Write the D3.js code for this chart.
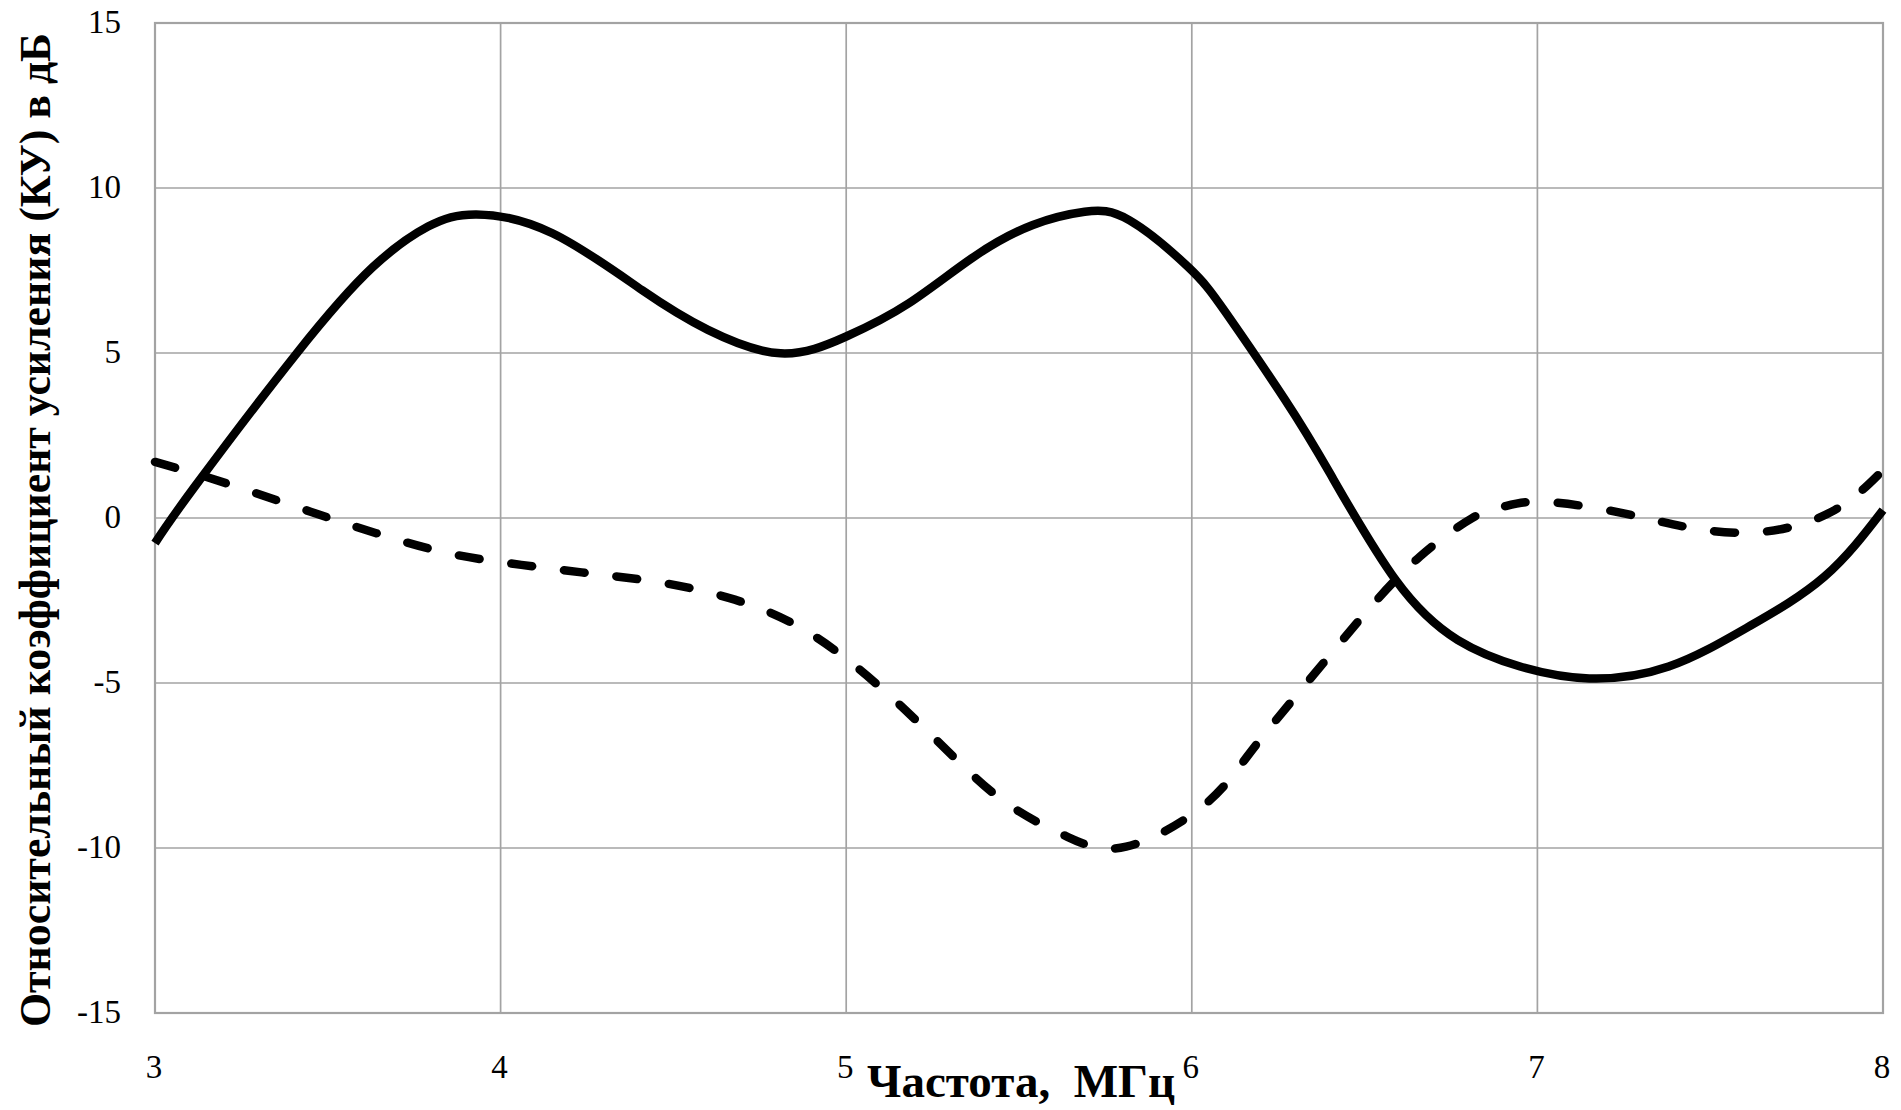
<!DOCTYPE html>
<html>
<head>
<meta charset="utf-8">
<script src="https://cdn.jsdelivr.net/npm/d3@7"></script>
<style>
  html, body { margin: 0; padding: 0; background: #fff; }
  svg { display: block; }
</style>
</head>
<body>
<svg id="chart" width="1901" height="1110"></svg>
<script>
// ---- data ----
const xTicks = [3, 4, 5, 6, 7, 8];
const yTicks = [15, 10, 5, 0, -5, -10, -15];
const xTitle = "Частота,  МГц";
const yTitle = "Относительный коэффициент усиления (КУ) в дБ";

// solid curve
const solidX = [3.0, 3.115, 3.41, 3.63, 3.79, 3.93, 4.15, 4.41, 4.60, 4.81, 5.0, 5.18, 5.37, 5.54, 5.69, 5.82, 5.99, 6.10, 6.27, 6.40, 6.59, 6.77, 6.95, 7.15, 7.38, 7.61, 7.83, 8.0];
const solidY = [-0.76, 0.95, 4.99, 7.6, 8.83, 9.2, 8.63, 6.9, 5.7, 4.99, 5.5, 6.5, 7.92, 8.88, 9.28, 9.02, 7.6, 6.2, 3.58, 1.35, -1.88, -3.7, -4.5, -4.86, -4.5, -3.3, -1.78, 0.24];

// dashed curve
const dashX = [3.0, 3.115, 3.25, 3.45, 3.64, 3.85, 4.06, 4.26, 4.46, 4.66, 4.845, 5.01, 5.166, 5.31, 5.465, 5.64, 5.81, 6.03, 6.16, 6.285, 6.42, 6.53, 6.66, 6.81, 6.90, 7.02, 7.25, 7.45, 7.66, 7.86, 8.0];
const dashY = [1.7, 1.35, 0.9, 0.19, -0.46, -1.07, -1.42, -1.68, -1.95, -2.42, -3.19, -4.35, -5.77, -7.23, -8.65, -9.66, -9.96, -8.75, -7.23, -5.6, -3.9, -2.55, -1.17, -0.01, 0.34, 0.49, 0.14, -0.31, -0.41, 0.24, 1.45];

// ---- layout ----
const svg = d3.select("#chart");
const L = 155, R = 1883, T = 23, B = 1013;

const x = d3.scaleLinear().domain([3, 8]).range([L, R]);
const y = d3.scaleLinear().domain([-15, 15]).range([B, T]);

const gridColor = "#a3a3a3";

// gridlines
const g = svg.append("g");
g.selectAll("line.v").data(xTicks).enter().append("line")
  .attr("x1", d => x(d)).attr("x2", d => x(d))
  .attr("y1", T).attr("y2", B)
  .attr("stroke", gridColor).attr("stroke-width", 1.7);
g.selectAll("line.h").data(yTicks).enter().append("line")
  .attr("x1", L).attr("x2", R)
  .attr("y1", d => y(d)).attr("y2", d => y(d))
  .attr("stroke", gridColor).attr("stroke-width", 1.7);
// border
svg.append("rect").attr("x", L).attr("y", T).attr("width", R - L).attr("height", B - T)
  .attr("fill", "none").attr("stroke", gridColor).attr("stroke-width", 2.2);

// tick labels
const tickFont = "'Liberation Serif', 'Times New Roman', serif";
svg.selectAll("text.yt").data(yTicks).enter().append("text")
  .attr("x", 121).attr("y", d => y(d) - 1)
  .attr("text-anchor", "end").attr("dominant-baseline", "central")
  .attr("font-family", tickFont).attr("font-size", 33).attr("fill", "#000")
  .text(d => d);
svg.selectAll("text.xt").data(xTicks).enter().append("text")
  .attr("x", d => x(d) - 1).attr("y", 1067)
  .attr("text-anchor", "middle").attr("dominant-baseline", "central")
  .attr("font-family", tickFont).attr("font-size", 33).attr("fill", "#000")
  .text(d => d);

// axis titles
svg.append("text")
  .attr("x", (L + R) / 2 + 2).attr("y", 1097)
  .attr("text-anchor", "middle")
  .attr("font-family", tickFont).attr("font-size", 47).attr("font-weight", "bold")
  .style("white-space", "pre")
  .attr("fill", "#000")
  .text(xTitle);

svg.append("text")
  .attr("transform", "translate(50," + 530 + ") rotate(-90)")
  .attr("text-anchor", "middle")
  .attr("font-family", tickFont).attr("font-size", 45).attr("font-weight", "bold")
  .attr("fill", "#000")
  .attr("textLength", 994).attr("lengthAdjust", "spacingAndGlyphs")
  .text(yTitle);

// lines
const line = d3.line().x(d => x(d[0])).y(d => y(d[1])).curve(d3.curveNatural);
const solid = solidX.map((v, i) => [v, solidY[i]]);
const dashed = dashX.map((v, i) => [v, dashY[i]]);

svg.append("path").attr("d", line(dashed))
  .attr("fill", "none").attr("stroke", "#000").attr("stroke-width", 8.5)
  .attr("stroke-linecap", "round").attr("stroke-dasharray", "21 32");
svg.append("path").attr("d", line(solid))
  .attr("fill", "none").attr("stroke", "#000").attr("stroke-width", 8.5)
  .attr("stroke-linejoin", "round");
</script>
</body>
</html>
